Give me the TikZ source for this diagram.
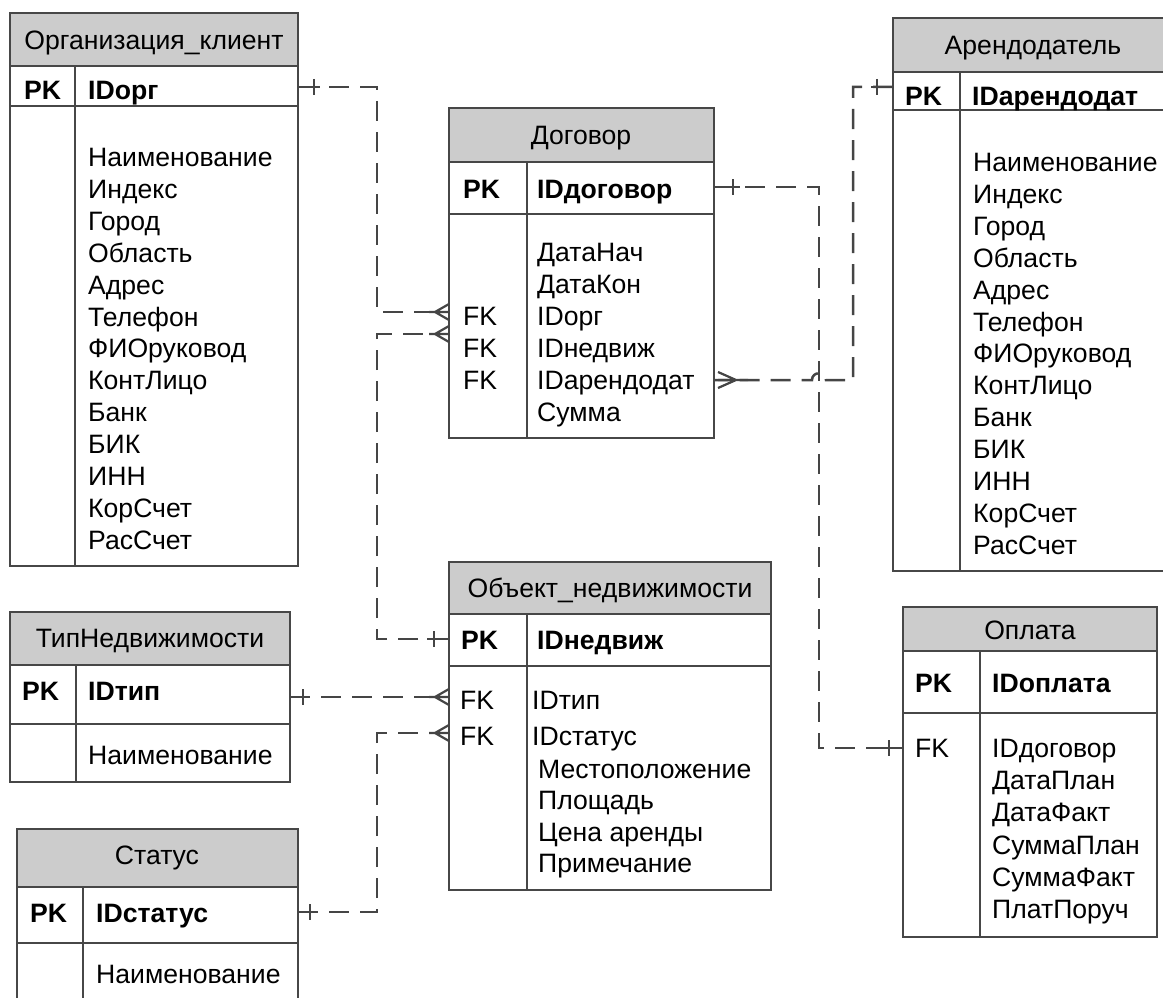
\documentclass[tikz,border=0pt]{standalone}
\usepackage{fontspec}
\setmainfont{Liberation Sans}
\definecolor{bc}{HTML}{474747}
\definecolor{hc}{HTML}{CCCCCC}
\definecolor{lc}{HTML}{454545}
\newcommand\fz{\fontsize{26.6}{31}\selectfont}
% entity table: name, left, top, right, header bottom, key-row bottom, bottom, column divider
\newcommand\ertable[8]{%
  \node[hdrbox, minimum width={(#4-#2)*1pt}, minimum height={(#5-#3)*1pt}] (#1-h) at (#2,#3) {};
  \node[rowbox, minimum width={(#4-#2)*1pt}, minimum height={(#6-#5)*1pt}] (#1-k) at (#2,#5) {};
  \node[rowbox, minimum width={(#4-#2)*1pt}, minimum height={(#7-#6)*1pt}] (#1-b) at (#2,#6) {};
  \draw[frame] (#8,#5) -- (#8,#7);
}
\begin{document}
\begin{tikzpicture}[x=1pt,y=-1pt,
  frame/.style={draw=bc, line width=2pt},
  hdrbox/.style={frame, fill=hc, inner sep=0pt, outer sep=0pt, anchor=north west},
  rowbox/.style={frame, fill=white, inner sep=0pt, outer sep=0pt, anchor=north west},
  title/.style={inner sep=0pt, text height=19pt, text depth=0pt, anchor=center, font=\fz},
  fld/.style={inner sep=0pt, text height=19pt, text depth=0pt, anchor=west, font=\fz},
  key/.style={fld, font=\fz\bfseries},
  rel/.style={draw=lc, line width=2.5pt, dash pattern=on 20pt off 11pt},
  endmark/.style={draw=lc, line width=2.5pt}]
\useasboundingbox (0,0) rectangle (1163,998);
\clip (0,0) rectangle (1163,998);

% ---------- tables ----------
\ertable{org}{10}{13}{298}{66}{106}{566}{75}
\ertable{arn}{893}{18}{1173}{72}{110}{571}{960}
\ertable{dog}{449}{108}{714}{162}{214}{438}{527}
\ertable{obj}{449}{562}{771}{614}{666}{890}{527}
\ertable{tip}{10}{612}{290}{665}{724}{782}{76}
\ertable{sts}{17}{829}{298}{887}{943}{1010}{83}
\ertable{opl}{903}{607}{1157}{651}{713}{937}{980}

% ---------- Организация_клиент ----------
\node[title] (org-t) at (154,40) {Организация\_клиент};
\node[key] (org-pk) at (24,90) {PK};
\node[key] (org-id) at (88,90) {IDорг};
\foreach [count=\i] \s in {Наименование,Индекс,Город,Область,Адрес,Телефон,ФИОруковод,КонтЛицо,Банк,БИК,ИНН,КорСчет,РасСчет}
  \node[fld] (org-f\i) at (88,{157+31.9*(\i-1)}) {\s};

% ---------- Арендодатель ----------
\node[title] (arn-t) at (1033,45) {Арендодатель};
\node[key] (arn-pk) at (905,96) {PK};
\node[key] (arn-id) at (972,96) {IDарендодат};
\foreach [count=\i] \s in {Наименование,Индекс,Город,Область,Адрес,Телефон,ФИОруковод,КонтЛицо,Банк,БИК,ИНН,КорСчет,РасСчет}
  \node[fld] (arn-f\i) at (973,{162+31.9*(\i-1)}) {\s};

% ---------- Договор ----------
\node[title] (dog-t) at (581,135) {Договор};
\node[key] (dog-pk) at (463,189) {PK};
\node[key] (dog-id) at (537,189) {IDдоговор};
\foreach [count=\i] \s in {ДатаНач,ДатаКон,IDорг,IDнедвиж,IDарендодат,Сумма}
  \node[fld] (dog-f\i) at (537,{252+32*(\i-1)}) {\s};
\foreach \i in {3,4,5}
  \node[fld] (dog-fk\i) at (463,{252+32*(\i-1)}) {FK};

% ---------- Объект_недвижимости ----------
\node[title] (obj-t) at (610,588) {Объект\_недвижимости};
\node[key] (obj-pk) at (461,640) {PK};
\node[key] (obj-id) at (537,640) {IDнедвиж};
\node[fld] (obj-fk1) at (460,700) {FK};
\node[fld] (obj-fk2) at (460,736) {FK};
\node[fld] (obj-f1) at (532,700) {IDтип};
\node[fld] (obj-f2) at (532,736) {IDстатус};
\foreach [count=\i] \s in {Местоположение,Площадь,Цена аренды,Примечание}
  \node[fld] (obj-g\i) at (538,{769+31.3*(\i-1)}) {\s};

% ---------- ТипНедвижимости ----------
\node[title] (tip-t) at (150,638) {ТипНедвижимости};
\node[key] (tip-pk) at (22,691) {PK};
\node[key] (tip-id) at (88,691) {IDтип};
\node[fld] (tip-f1) at (88,755) {Наименование};

% ---------- Статус ----------
\node[title] (sts-t) at (157,855) {Статус};
\node[key] (sts-pk) at (30,913) {PK};
\node[key] (sts-id) at (96,913) {IDстатус};
\node[fld] (sts-f1) at (96,974) {Наименование};

% ---------- Оплата ----------
\node[title] (opl-t) at (1030,630) {Оплата};
\node[key] (opl-pk) at (915,683) {PK};
\node[key] (opl-id) at (992,683) {IDоплата};
\node[fld] (opl-fk) at (915,748) {FK};
\foreach [count=\i] \s in {IDдоговор,ДатаПлан,ДатаФакт,СуммаПлан,СуммаФакт,ПлатПоруч}
  \node[fld] (opl-f\i) at (992,{748+32.2*(\i-1)}) {\s};

% ---------- connection points ----------
\coordinate (org-out) at (298,87);
\coordinate (dog-in1) at (449,312);
\coordinate (dog-in2) at (449,334);
\coordinate (dog-out) at (714,380);
\coordinate (dog-pkout) at (714,187);
\coordinate (obj-pkin) at (449,639);
\coordinate (obj-in1) at (449,697);
\coordinate (obj-in2) at (449,733);
\coordinate (tip-out) at (290,697);
\coordinate (sts-out) at (298,912);
\coordinate (arn-in) at (893,87);
\coordinate (opl-in) at (903,748);

% ---------- relationships ----------
% Организация_клиент -> Договор
\draw[rel] (org-out) -| (377,312) -- (dog-in1);
% Объект_недвижимости -> Договор
\draw[rel] (obj-pkin) -| (377,334) -- (dog-in2);
% ТипНедвижимости -> Объект_недвижимости
\draw[rel] (tip-out) -- (obj-in1);
% Статус -> Объект_недвижимости
\draw[rel] (sts-out) -| (377,733) -- (obj-in2);
% Договор -> Оплата
\draw[rel] (dog-pkout) -| (819,748) -- (opl-in);
% Арендодатель -> Договор (hops over the Оплата line)
\draw[rel] (arn-in) -| (853,380) -- (826,380)
  .. controls (826,371) and (812,371) .. (812,380) -- (dog-out);

% ---------- end marks ----------
% single bars
\draw[endmark] (org-out) -- ++(22,0) ([xshift=16pt]org-out) ++(0,-8) -- ++(0,16);
\draw[endmark] (tip-out) -- ++(20,0) ([xshift=13pt]tip-out) ++(0,-8) -- ++(0,16);
\draw[endmark] (sts-out) -- ++(20,0) ([xshift=12pt]sts-out) ++(0,-8) -- ++(0,16);
\draw[endmark] (dog-pkout) -- ++(26,0) ([xshift=19pt]dog-pkout) ++(0,-8) -- ++(0,16);
\draw[endmark] (obj-pkin) -- ++(-22,0) ([xshift=-15pt]obj-pkin) ++(0,-8) -- ++(0,16);
\draw[endmark] (arn-in) -- ++(-22,0) ([xshift=-16pt]arn-in) ++(0,-8) -- ++(0,16);
\draw[endmark] (opl-in) -- ++(-18,0) ([xshift=-14pt]opl-in) ++(0,-8) -- ++(0,16);
% crow's feet
\foreach \p in {dog-in1,dog-in2,obj-in1,obj-in2}
  \draw[endmark, line width=2.2pt] (\p) -- ++(-20,0)
    ([xshift=-14pt]\p) -- ++(14,-8) ([xshift=-14pt]\p) -- ++(14,8);
\draw[endmark, line width=2.2pt] ([xshift=4pt]dog-out) -- ++(30,0)
  ([xshift=22pt]dog-out) -- ++(-18,-8) ([xshift=22pt]dog-out) -- ++(-18,8);
\end{tikzpicture}
\end{document}
